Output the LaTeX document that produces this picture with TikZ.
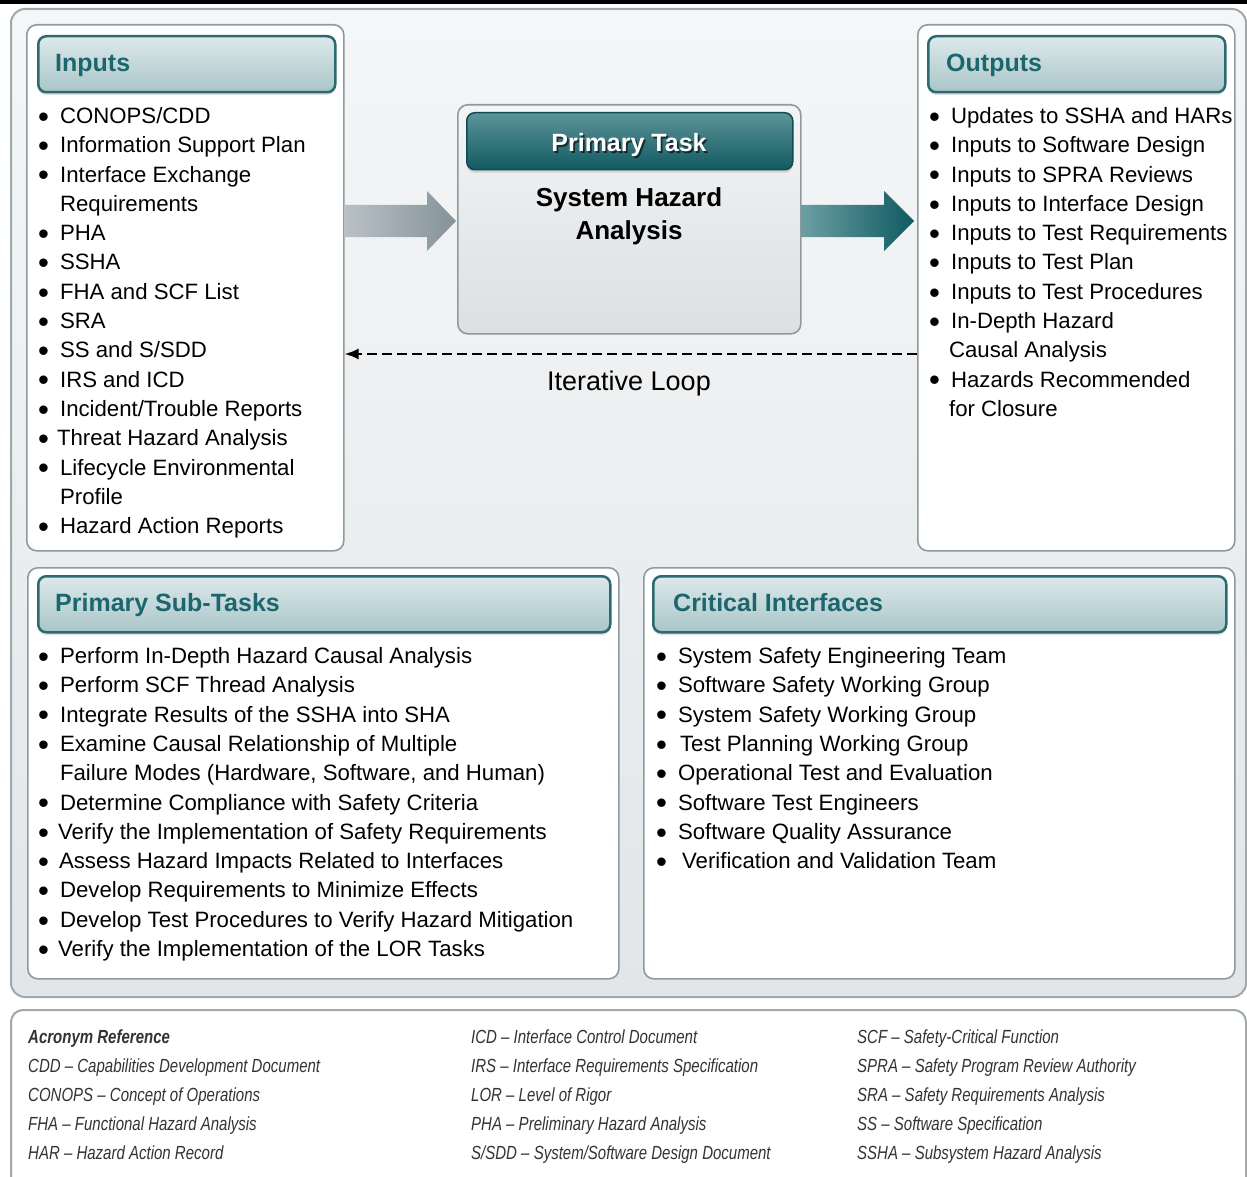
\documentclass[tikz,border=0pt]{standalone}
\usepackage{fontspec}
\setmainfont{Liberation Sans}
\newfontfamily\condfont[FakeStretch=0.79]{Liberation Sans}
\usetikzlibrary{shadows,arrows.meta}
\definecolor{panelT}{HTML}{F5F6F7}
\definecolor{panelB}{HTML}{E2E6E8}
\definecolor{panelborder}{HTML}{9EA8AD}
\definecolor{boxborder}{HTML}{8F9AA0}
\definecolor{hdrT}{HTML}{DDE9EB}
\definecolor{hdrB}{HTML}{A9C5C8}
\definecolor{hdrborder}{HTML}{2B6B70}
\definecolor{hdrtext}{HTML}{1C676E}
\definecolor{darkT}{HTML}{5C9499}
\definecolor{darkB}{HTML}{125A62}
\definecolor{darkborder}{HTML}{0F4B52}
\definecolor{ptT}{HTML}{F3F4F5}
\definecolor{ptB}{HTML}{DCE0E3}
\definecolor{garrL}{HTML}{B9C1C6}
\definecolor{garrR}{HTML}{85929A}
\definecolor{tarrL}{HTML}{6C9FA3}
\definecolor{tarrR}{HTML}{0F5A62}
\definecolor{acrtext}{HTML}{333333}
\newcommand\listfont{\fontsize{22.2}{29.3}\selectfont}
\newcommand\bl{\raisebox{-3.8pt}{\scalebox{1.4}{\textbullet}}}
\begin{document}
\begin{tikzpicture}[x=1pt,y=-1pt,
  panel/.style={draw=panelborder, line width=2pt, rounded corners=14pt, top color=panelT, bottom color=panelB},
  whitebox/.style={draw=boxborder, line width=1.6pt, rounded corners=10pt, fill=white, anchor=north west, inner sep=0pt},
  ptbox/.style={draw=boxborder, line width=1.6pt, rounded corners=10pt, top color=ptT, bottom color=ptB, anchor=north west, inner sep=0pt},
  hdr/.style={draw=hdrborder, line width=2.5pt, rounded corners=8pt, top color=hdrT, bottom color=hdrB, anchor=north west, inner sep=0pt,
    drop shadow={shadow xshift=0pt, shadow yshift=-3pt, opacity=0.22}},
  darkhdr/.style={draw=darkborder, line width=1.5pt, rounded corners=8pt, top color=darkT, bottom color=darkB, anchor=north west, inner sep=0pt,
    drop shadow={shadow xshift=0pt, shadow yshift=-3pt, opacity=0.25}},
  hdrtext/.style={anchor=base west, inner sep=0pt, text=hdrtext, font=\fontsize{25}{30}\selectfont\bfseries},
  listtext/.style={anchor=base west, inner sep=0pt, font=\listfont, text=black},
  acr/.style={anchor=base west, inner sep=0pt, font=\condfont\fontsize{19}{29}\selectfont\itshape, text=acrtext}]
\useasboundingbox (0,0) rectangle (1247,1177);
\fill[white] (0,0) rectangle (1247,1177);
% top rule
\fill[black] (0,0) rectangle (1247,4);
% main panel
\path[panel] (11,9) rectangle (1246,997);
% acronym box
\path[draw=panelborder, line width=2pt, rounded corners=12pt, fill=white] (11,1010) rectangle (1246,1200);

% boxes
\node[whitebox, minimum width=317pt, minimum height=526pt] (inputs) at (26,24) {};
\node[whitebox, minimum width=317pt, minimum height=526pt] (outputs) at (917,24) {};
\node[whitebox, minimum width=591pt, minimum height=411pt] (subtasks) at (27,567) {};
\node[whitebox, minimum width=591pt, minimum height=411pt] (critical) at (643,567) {};
\node[ptbox, minimum width=343pt, minimum height=229pt] (primary) at (457,104) {};

% headers
\node[hdr, minimum width=297pt, minimum height=56pt] (inhdr) at (37,35) {};
\node[hdr, minimum width=297pt, minimum height=56pt] (outhdr) at (927,35) {};
\node[hdr, minimum width=572pt, minimum height=56pt] (subhdr) at (37,575) {};
\node[hdr, minimum width=573pt, minimum height=56pt] (crithdr) at (652,575) {};
\node[darkhdr, minimum width=326pt, minimum height=57pt] (pthdr) at (466,112) {};

\node[hdrtext] (intitle) at (55,72) {Inputs};
\node[hdrtext] (outtitle) at (946,72) {Outputs};
\node[hdrtext] (subtitle) at (55,611) {Primary Sub-Tasks};
\node[hdrtext] (crittitle) at (673,611) {Critical Interfaces};

\node[anchor=base, inner sep=0pt, text=black, opacity=0.6, font=\fontsize{25}{30}\selectfont\bfseries] (ptshadow) at (630.8,153.8) {Primary Task};
\node[anchor=base, inner sep=0pt, text=white, font=\fontsize{25}{30}\selectfont\bfseries] (pttitle) at (629,152) {Primary Task};
\node[anchor=base, inner sep=0pt, font=\fontsize{26}{32}\selectfont\bfseries] (sha1) at (629,207) {System Hazard};
\node[anchor=base, inner sep=0pt, font=\fontsize{26}{32}\selectfont\bfseries] (sha2) at (629,239) {Analysis};

% block arrows
\shade[left color=garrL, right color=garrR] (344,205) -- (427,205) -- (427,191) -- (456,221) -- (427,251) -- (427,237) -- (344,237) -- cycle;
\shade[left color=tarrL, right color=tarrR] (801,205) -- (884,205) -- (884,191) -- (914,221) -- (884,251) -- (884,237) -- (801,237) -- cycle;

% iterative loop
\draw[line width=2pt, dash pattern=on 10pt off 5pt, -{Latex[length=14pt,width=11pt]}] (outputs.west |- 0,354) -- (inputs.east |- 0,354);
\node[anchor=base, inner sep=0pt, font=\fontsize{27}{32}\selectfont] (loop) at (629,390) {Iterative Loop};

% lists
\node[listtext] (inlist) at (38,123.5) {\begin{tabular}[t]{@{}l@{\hspace{11pt}}l@{}}
\bl & CONOPS/CDD\\
\bl & Information Support Plan\\
\bl & Interface Exchange\\
 & Requirements\\
\bl & PHA\\
\bl & SSHA\\
\bl & FHA and SCF List\\
\bl & SRA\\
\bl & SS and S/SDD\\
\bl & IRS and ICD\\
\bl & Incident/Trouble Reports\\
\bl & \hspace*{-3pt}Threat Hazard Analysis\\
\bl & Lifecycle Environmental\\
 & Profile\\
\bl & Hazard Action Reports
\end{tabular}};

\node[listtext] (outlist) at (929,123.5) {\begin{tabular}[t]{@{}l@{\hspace{11pt}}l@{}}
\bl & Updates to SSHA and HARs\\
\bl & Inputs to Software Design\\
\bl & Inputs to SPRA Reviews\\
\bl & Inputs to Interface Design\\
\bl & Inputs to Test Requirements\\
\bl & Inputs to Test Plan\\
\bl & Inputs to Test Procedures\\
\bl & In-Depth Hazard\\
 & \hspace*{-2pt}Causal Analysis\\
\bl & Hazards Recommended\\
 & \hspace*{-2pt}for Closure
\end{tabular}};

\node[listtext] (sublist) at (38,663.5) {\begin{tabular}[t]{@{}l@{\hspace{11pt}}l@{}}
\bl & Perform In-Depth Hazard Causal Analysis\\
\bl & Perform SCF Thread Analysis\\
\bl & Integrate Results of the SSHA into SHA\\
\bl & Examine Causal Relationship of Multiple\\
 & Failure Modes (Hardware, Software, and Human)\\
\bl & Determine Compliance with Safety Criteria\\
\bl & \hspace*{-2pt}Verify the Implementation of Safety Requirements\\
\bl & \hspace*{-1pt}Assess Hazard Impacts Related to Interfaces\\
\bl & Develop Requirements to Minimize Effects\\
\bl & Develop Test Procedures to Verify Hazard Mitigation\\
\bl & \hspace*{-2pt}Verify the Implementation of the LOR Tasks
\end{tabular}};

\node[listtext] (critlist) at (656,663.5) {\begin{tabular}[t]{@{}l@{\hspace{11pt}}l@{}}
\bl & System Safety Engineering Team\\
\bl & Software Safety Working Group\\
\bl & System Safety Working Group\\
\bl & \hspace*{2pt}Test Planning Working Group\\
\bl & Operational Test and Evaluation\\
\bl & Software Test Engineers\\
\bl & Software Quality Assurance\\
\bl & \hspace*{4pt}Verification and Validation Team
\end{tabular}};

% acronyms
\node[acr] (acr1) at (28,1043.5) {\begin{tabular}[t]{@{}l@{}}
\textbf{Acronym Reference}\\
CDD – Capabilities Development Document\\
CONOPS – Concept of Operations\\
FHA – Functional Hazard Analysis\\
HAR – Hazard Action Record
\end{tabular}};
\node[acr] (acr2) at (471,1043.5) {\begin{tabular}[t]{@{}l@{}}
ICD – Interface Control Document\\
IRS – Interface Requirements Specification\\
LOR – Level of Rigor\\
PHA – Preliminary Hazard Analysis\\
S/SDD – System/Software Design Document
\end{tabular}};
\node[acr] (acr3) at (857,1043.5) {\begin{tabular}[t]{@{}l@{}}
SCF – Safety-Critical Function\\
SPRA – Safety Program Review Authority\\
SRA – Safety Requirements Analysis\\
SS – Software Specification\\
SSHA – Subsystem Hazard Analysis
\end{tabular}};
\end{tikzpicture}
\end{document}
